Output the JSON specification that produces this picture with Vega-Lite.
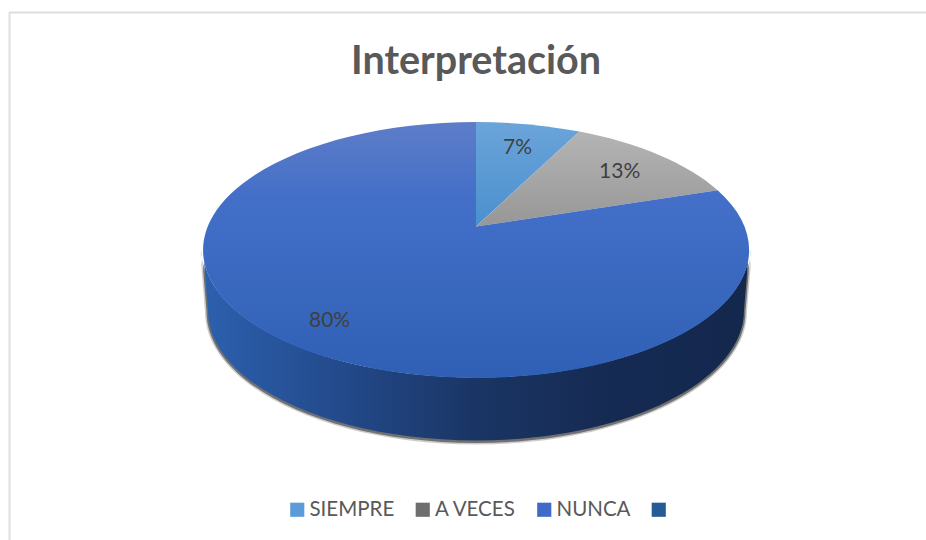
{"$schema":"https://vega.github.io/schema/vega-lite/v6.json","width":926,"height":540,"padding":0,"autosize":"none","background":"white","view":{"stroke":null},
"title":{"text":"Interpretación","anchor":"middle","frame":"group","orient":"top","offset":-113,"dx":13,"baseline":"alphabetic","font":"Lato","fontWeight":"bold","fontSize":39.5,"color":"#595959"},
"data":{"values":[{"category":"SIEMPRE","value":7.4},{"category":"A VECES","value":12.6},{"category":"NUNCA","value":80},{"category":" ","value":0}]},
"transform":[
{"stack":"value","groupby":[],"as":["s0","s1"]},
{"calculate":"0","as":"apex"},
{"calculate":"datum.s0/100*2*PI","as":"t0"},
{"calculate":"datum.s1/100*2*PI","as":"t1"},
{"calculate":"(datum.t0+datum.t1)/2","as":"tm"},
{"calculate":"268.5*sin(datum.t0)/(1+0.1837*cos(datum.t0))","as":"x0"},
{"calculate":"-123.7*cos(datum.t0)/(1+0.1837*cos(datum.t0))","as":"y0"},
{"calculate":"268.5*sin(datum.t1)/(1+0.1837*cos(datum.t1))","as":"x1"},
{"calculate":"-123.7*cos(datum.t1)/(1+0.1837*cos(datum.t1))","as":"y1"},
{"calculate":"0.79*268.5*sin(datum.tm)/(1+0.1837*cos(datum.tm))","as":"lx"},
{"calculate":"-0.79*123.7*cos(datum.tm)/(1+0.1837*cos(datum.tm))","as":"ly"},
{"calculate":"'M0,0 L'+datum.x0+','+datum.y0+' A273,128 0 '+(datum.value>50?1:0)+' 1 '+datum.x1+','+datum.y1+' Z'","as":"path"},
{"calculate":"round(datum.value)+'%'","as":"label"}
],
"encoding":{"x":{"field":"apex","type":"quantitative","scale":{"domain":[-476,450],"range":[0,926],"nice":false,"zero":false},"axis":null},"y":{"field":"apex","type":"quantitative","scale":{"domain":[-226.5,313.5],"range":[0,540],"nice":false,"zero":false},"axis":null}},
"layer":[
{"transform":[{"filter":"datum.category=='NUNCA'"}],"mark":{"type":"rule","color":"#dedede","strokeWidth":2},"encoding":{"x":{"datum":-466.5,"type":"quantitative"},"y":{"datum":-214,"type":"quantitative"},"y2":{"datum":313.5}}},
{"transform":[{"filter":"datum.category=='NUNCA'"}],"mark":{"type":"rule","color":"#dedede","strokeWidth":2},"encoding":{"y":{"datum":-214,"type":"quantitative"},"x":{"datum":-467,"type":"quantitative"},"x2":{"datum":450}}},
{"transform":[{"filter":"datum.category=='NUNCA'"}],"mark":{"type":"point","filled":true,"opacity":0.25,"fill":"#333333","size":4,"shape":"M-276,23 L-271,85 A271,133 0 0 0 271,85 L276,23 A273,128 0 0 1 -276,23 Z"}},
{"transform":[{"filter":"datum.category=='NUNCA'"}],"mark":{"type":"point","filled":true,"opacity":0.6,"fill":"#333333","size":4,"shape":"M-274.5,23 L-269.5,85 A269.5,131.5 0 0 0 269.5,85 L274.5,23 A273,128 0 0 1 -274.5,23 Z"}},
{"transform":[{"filter":"datum.category=='NUNCA'"}],"mark":{"type":"point","filled":true,"opacity":1,"size":4,"shape":"M-273,23 L-268,84 A268,130 0 0 0 268,84 L273,23 A273,128 0 0 1 -273,23 Z","fill":{"gradient":"linear","x1":0,"x2":1,"y1":0,"y2":0,"stops":[{"offset":0,"color":"#2c60ae"},{"offset":0.25,"color":"#234a8b"},{"offset":0.5,"color":"#1a3564"},{"offset":0.75,"color":"#152a52"},{"offset":1,"color":"#14284e"}]}}},
{"transform":[{"filter":"datum.category=='SIEMPRE'"}],"mark":{"type":"point","filled":true,"opacity":1,"size":4,"fill":{"gradient":"linear","x1":0,"x2":0,"y1":0,"y2":1,"stops":[{"offset":0,"color":"#6ba4d9"},{"offset":1,"color":"#4a90cf"}]}},"encoding":{"shape":{"field":"path","type":"nominal","scale":null}}},
{"transform":[{"filter":"datum.category=='A VECES'"}],"mark":{"type":"point","filled":true,"opacity":1,"size":4,"fill":{"gradient":"linear","x1":0,"x2":0,"y1":0,"y2":1,"stops":[{"offset":0,"color":"#b4b4b4"},{"offset":1,"color":"#979797"}]}},"encoding":{"shape":{"field":"path","type":"nominal","scale":null}}},
{"transform":[{"filter":"datum.category=='NUNCA'"}],"mark":{"type":"point","filled":true,"opacity":1,"size":4,"fill":{"gradient":"linear","x1":0,"x2":0,"y1":0,"y2":1,"stops":[{"offset":0,"color":"#5e7dc8"},{"offset":0.3,"color":"#436fc8"},{"offset":1,"color":"#2f60b5"}]}},"encoding":{"shape":{"field":"path","type":"nominal","scale":null}}},
{"transform":[{"filter":"datum.value>0"}],"mark":{"type":"text","font":"Lato","fontSize":21,"color":"#404040","align":"center","baseline":"middle","dy":2},"encoding":{"x":{"field":"lx","type":"quantitative"},"y":{"field":"ly","type":"quantitative"},"text":{"field":"label"}}},
{"mark":{"type":"point","filled":true,"size":0,"opacity":1},"encoding":{"color":{"field":"category","type":"nominal","scale":{"domain":["SIEMPRE","A VECES","NUNCA"," "],"range":["#5b9bd8","#6e6e6e","#4069c8","#255c96"]},"legend":{"title":null,"orient":"none","legendX":287,"legendY":499.5,"direction":"horizontal","columns":4,"symbolType":"square","symbolSize":200,"symbolStrokeWidth":0,"labelFont":"Lato","labelFontSize":20.5,"labelColor":"#595959","columnPadding":17.5,"labelOffset":2,"gridAlign":"none","labelLimit":200}}}}
]}
